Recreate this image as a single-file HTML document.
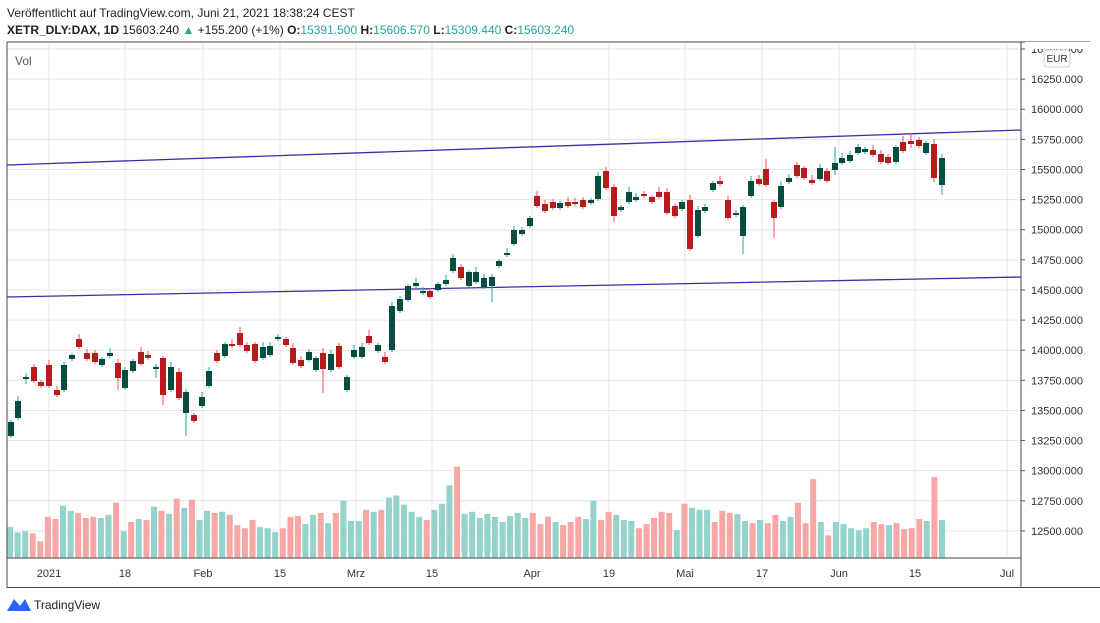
<!DOCTYPE html>
<html><head><meta charset="utf-8"><style>
body{margin:0;background:#fff;width:1100px;height:623px;overflow:hidden;font-family:"Liberation Sans",sans-serif;}
svg{position:absolute;left:0;top:0}
</style></head><body>
<svg id="s" width="1100" height="623" xmlns="http://www.w3.org/2000/svg" font-family="Liberation Sans, sans-serif"></svg>
<script>
const s=document.getElementById('s');let h='';
h+='<text x="7" y="17" font-size="12" fill="#222">Veröffentlicht auf TradingView.com, Juni 21, 2021 18:38:24 CEST</text>';
h+='<text x="7" y="34" font-size="12" fill="#222"><tspan font-weight="bold">XETR_DLY:DAX, 1D</tspan> 15603.240 <tspan fill="#26a69a">▲</tspan> +155.200 (+1%) <tspan font-weight="bold">O:</tspan><tspan fill="#26a69a">15391.500</tspan> <tspan font-weight="bold">H:</tspan><tspan fill="#26a69a">15606.570</tspan> <tspan font-weight="bold">L:</tspan><tspan fill="#26a69a">15309.440</tspan> <tspan font-weight="bold">C:</tspan><tspan fill="#26a69a">15603.240</tspan></text>';
// grid
for(let k=0;k<=16;k++){const y=49+k*30.12;if(y>558)break;h+=`<line x1="7" x2="1021" y1="${y}" y2="${y}" stroke="#e6e6e6"/>`;
const p=16500-250*k;h+=`<line x1="1021" x2="1025" y1="${y}" y2="${y}" stroke="#555"/><text x="1031" y="${y+4}" font-size="11" fill="#333">${p}.000</text>`;}
const vx=[49,125,203,280,356,432,532,609,685,762,839,915,1007];
const vl=['2021','18','Feb','15','Mrz','15','Apr','19','Mai','17','Jun','15','Jul'];
vx.forEach((x,i)=>{h+=`<line x1="${x}" x2="${x}" y1="42" y2="558" stroke="#e6e6e6"/><text x="${x}" y="577" font-size="11" fill="#333" text-anchor="middle">${vl[i]}</text>`;});
h+='<text x="15" y="65" font-size="12" fill="#555">Vol</text>';
// volume
const V="g168,g183,g180,r186,r210,r138,r144,g105,g120,r126,r141,r138,g141,g132,r96,g180,r153,g144,r147,g108,r120,g129,r84,g111,r87,g147,g120,r126,g123,r132,r162,r171,r147,g168,g171,g183,r171,r138,r135,g159,g132,r126,g156,r126,g90,g150,g150,r117,g123,r117,g81,g75,g102,g123,g138,r147,g117,g99,g45,r-10,g129,g123,g141,g129,g138,g153,g135,g126,g141,r126,r159,r138,g153,r162,r153,r138,g144,g90,r147,r123,g132,g147,g150,r171,r159,r141,r123,r126,g177,r99,g111,g117,g117,r153,r120,r126,g129,g150,r156,g147,r156,r132,g150,g138,r96,r156,r27,g153,r192,g153,g159,g171,g177,g171,r153,r159,g162,r156,r174,r171,r144,g150,r21,g147".split(',');
const n=V.length;V.forEach((v,i)=>{const x=10+i*932/(n-1);let t=470+(+v.slice(1))/2.94;h+=`<rect x="${(x-3).toFixed(1)}" y="${t.toFixed(1)}" width="6" height="${(558-t).toFixed(1)}" fill="${v[0]=='g'?'#93d3cc':'#f7a8a6'}"/>`;});
// trend lines
h+='<line x1="7" y1="165" x2="1021" y2="130" stroke="#3c2ea8" stroke-width="1.3"/><line x1="7" y1="297" x2="1021" y2="277" stroke="#3c2ea8" stroke-width="1.3"/>';
const C=[[11,422,436,1],[18,401,418,1],[26,377,379,1],[34,367,381,0],[41,382,386,0],[49,365,386,0],[57,390,395,0],[64,365,390,1],[72,355,359,1],[79,339,347,0],[87,353,359,0],[95,353,362,0],[102,359,365,1],[110,353,356,1],[118,363,378,0],[125,370,388,1],[133,361,371,1],[141,352,364,0],[148,355,358,0],[156,367,369,1],[163,358,395,0],[171,367,390,1],[179,372,398,0],[186,392,413,1],[194,415,421,0],[202,397,406,1],[209,371,386,1],[217,353,361,0],[225,344,356,1],[232,344,346,0],[240,333,345,0],[247,345,351,0],[255,344,361,0],[263,347,358,1],[270,346,355,1],[278,337,339,1],[286,339,345,0],[293,348,363,0],[301,360,366,0],[309,352,360,1],[316,358,370,1],[323,353,369,0],[331,354,370,1],[339,346,367,0],[347,377,390,1],[354,350,357,1],[362,347,357,1],[369,336,343,0],[378,345,351,1],[385,357,362,0],[392,306,350,1],[400,299,311,1],[408,286,300,1],[416,283,286,1],[423,291,293,1],[430,291,297,0],[438,284,290,1],[446,280,284,1],[453,258,271,1],[461,267,278,0],[469,272,286,1],[476,272,282,1],[484,278,287,1],[492,277,286,1],[499,261,266,1],[507,253,255,1],[514,230,244,1],[522,230,234,1],[530,218,226,1],[537,196,206,0],[545,204,211,0],[553,202,208,0],[560,203,208,1],[568,202,206,0],[575,202,204,0],[583,200,207,0],[591,200,203,1],[598,176,199,1],[606,171,188,0],[614,187,216,0],[621,207,210,1],[629,192,202,1],[636,197,200,1],[644,194,196,0],[652,197,202,0],[659,192,197,0],[667,192,213,0],[675,206,216,0],[682,202,209,1],[690,200,249,0],[698,210,236,1],[705,207,211,1],[713,183,190,1],[720,181,184,0],[728,200,218,0],[736,213,215,1],[743,207,236,1],[751,181,196,1],[759,179,184,0],[766,169,185,0],[774,202,218,0],[781,186,207,1],[789,178,182,1],[797,165,176,0],[804,168,178,0],[812,180,183,0],[820,168,179,1],[827,171,181,0],[835,163,170,1],[842,158,163,1],[850,155,161,1],[858,147,153,1],[865,149,152,1],[873,150,155,0],[881,154,162,0],[888,157,163,0],[896,147,162,1],[903,142,151,0],[911,141,144,0],[919,140,146,0],[926,143,153,1],[934,144,178,0],[942,158,185,1]];
const LO={163:405,186:436,323:393,690:251,743:254,774:238,934:182,942:195,492:302,614:222,179:400,118:390,835:175,911:148,413:296,26:384,156:378,210:391};
const HI={835:147,911:133,903:136,766:159,598:172,453:254,369:330,240:327};
C.forEach((c,i)=>{const [x,t,b,g]=c;const e1=2+(i*7%4),e2=2+(i*5%5);const hi=HI[x]||t-e1,lo=LO[x]||b+e2;
h+=`<line x1="${x}" x2="${x}" y1="${hi}" y2="${lo}" stroke="${g?'#26a69a':'#ef5350'}"/>`;
h+=`<rect x="${x-3}" y="${t}" width="6" height="${Math.max(b-t,1.5)}" fill="${g?'#074d3f':'#b71c1c'}"/>`;});
// frame
h+='<path d="M7 42H1090M7 42V588M1021 42V588M7 558H1021M7 587.5H1100" stroke="#4a4a4a" fill="none"/>';
h+='<rect x="1025" y="42" width="70" height="7" fill="#fff"/><rect x="1044" y="50" width="26" height="17" rx="3" fill="#fff" stroke="#ccc"/><text x="1057" y="62" font-size="10" fill="#333" text-anchor="middle">EUR</text>';
h+='<path d="M7 611L14 599L20 606L25 599L31 611Z" fill="#2962ff"/><text x="34" y="609" font-size="12" fill="#222">TradingView</text>';
s.innerHTML=h;
</script>
</body></html>
